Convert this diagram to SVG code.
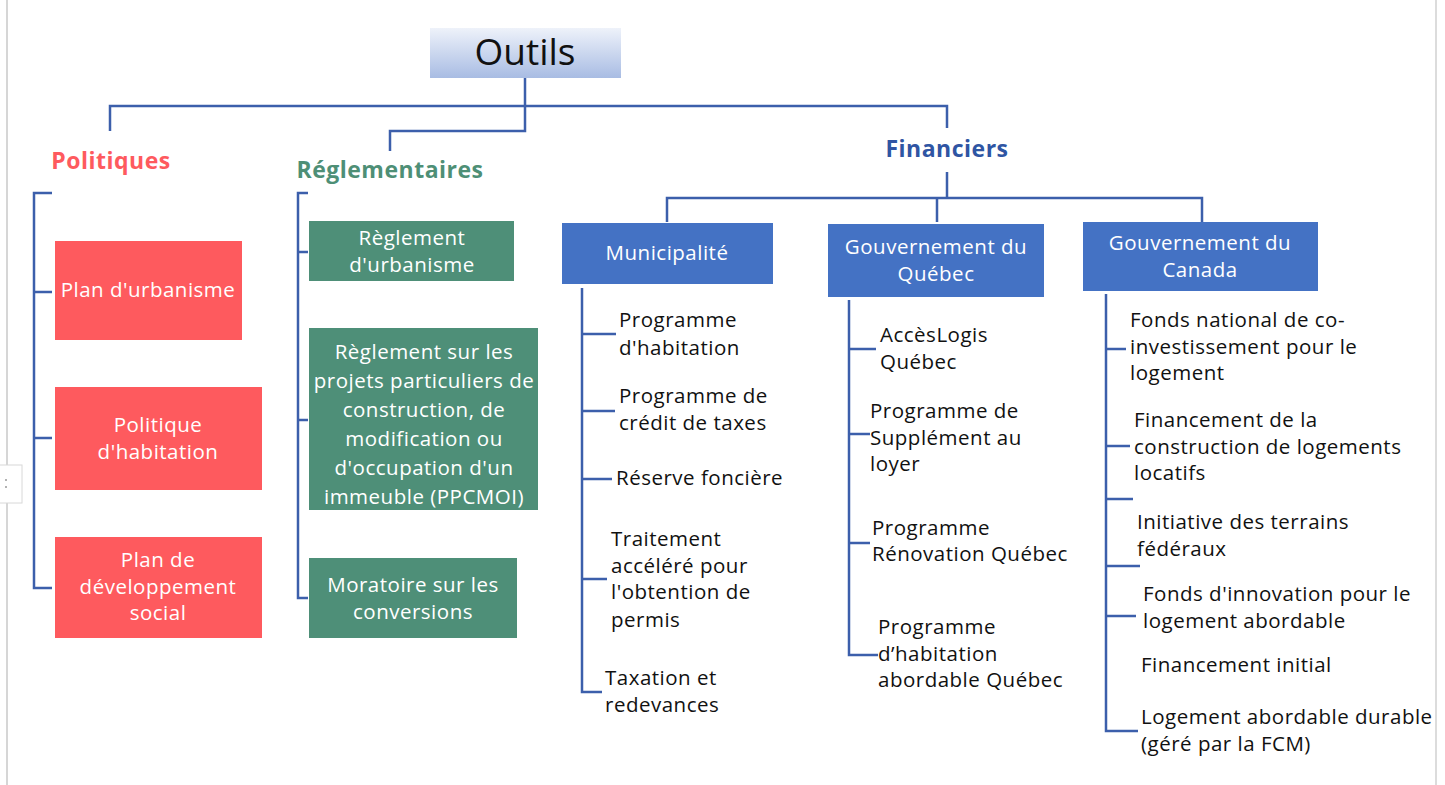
<svg xmlns="http://www.w3.org/2000/svg" width="1445" height="785" viewBox="0 0 1445 785">
<defs>
<linearGradient id="gOut" x1="0" y1="0" x2="0" y2="1">
<stop offset="0" stop-color="#eef2fa"/>
<stop offset="1" stop-color="#a8bce3"/>
</linearGradient>
<style>
.ln{fill:none;stroke:#3c5fab;stroke-width:2.5}
.t{font-family:"Open Sans","Noto Sans",sans-serif;font-size:20.5px;letter-spacing:0.5px;fill:#111}
.w{font-family:"Open Sans","Noto Sans",sans-serif;font-size:20.5px;letter-spacing:0.5px;fill:#fff;text-anchor:middle}
.h{font-family:"Open Sans","Noto Sans",sans-serif;font-size:23px;letter-spacing:0.5px;font-weight:bold;text-anchor:middle}
.red{fill:#fe5a5e}
.grn{fill:#4e8f78}
.blu{fill:#4472c4}
</style>
</defs>
<rect width="1445" height="785" fill="#fff"/>
<line x1="7" y1="0" x2="7" y2="785" stroke="#c8c8c8" stroke-width="1.5"/>
<line x1="1436" y1="0" x2="1436" y2="785" stroke="#d0d0d0" stroke-width="1.5"/>
<rect x="-1" y="465" width="23" height="38" fill="#fff" stroke="#d8d8d8"/>
<circle cx="6" cy="480" r="1" fill="#999"/><circle cx="6" cy="487" r="1" fill="#999"/>

<g id="connectors">
<path class="ln" d="M525 78V131H390V151"/>
<path class="ln" d="M110 131V106H947V128"/>
<path class="ln" d="M947 172V198M667 222V198H1202V222M937 198V222"/>
<path class="ln" d="M52 193H34V588H52M34 292H52M34 438H52"/>
<path class="ln" d="M308 193H298V598H308M298 252H308M298 420H308"/>
<path class="ln" d="M582 288V692H602M582 334H616M582 411H615M582 479H612M582 579H607"/>
<path class="ln" d="M849 300V655H878M849 349H876M849 434H870M849 543H870"/>
<path class="ln" d="M1106 294V731H1138M1106 349H1126M1106 446H1130M1106 499H1133M1106 566H1140M1106 616H1136"/>
</g>

<g id="outils">
<rect x="430" y="28" width="191" height="50" fill="url(#gOut)"/>
<text x="525" y="65" style="font-family:'Open Sans','Noto Sans',sans-serif;font-size:37px;fill:#111" text-anchor="middle">Outils</text>
</g>

<g id="politiques"><text class="h" x="111" y="169" fill="#fe5a5e">Politiques</text></g>
<g id="reglementaires"><text class="h" x="390" y="178" fill="#4e8f76">Réglementaires</text></g>
<g id="financiers"><text class="h" x="947" y="157" fill="#2f55a3">Financiers</text></g>

<g id="plan-urbanisme"><rect class="red" x="55" y="241" width="187" height="99"/><text class="w" x="148" y="297">Plan d'urbanisme</text></g>
<g id="politique-habitation"><rect class="red" x="55" y="387" width="207" height="103"/><text class="w" x="158" y="432">Politique</text><text class="w" x="158" y="459">d'habitation</text></g>
<g id="plan-developpement"><rect class="red" x="55" y="537" width="207" height="101"/><text class="w" x="158" y="567">Plan de</text><text class="w" x="158" y="594">développement</text><text class="w" x="158" y="620">social</text></g>

<g id="reglement-urbanisme"><rect class="grn" x="309" y="221" width="205" height="60"/><text class="w" x="412" y="245">Règlement</text><text class="w" x="412" y="272">d'urbanisme</text></g>
<g id="ppcmoi"><rect class="grn" x="309" y="328" width="229" height="182"/><text class="w" x="424" y="359">Règlement sur les</text><text class="w" x="424" y="388">projets particuliers de</text><text class="w" x="424" y="417">construction, de</text><text class="w" x="424" y="446">modification ou</text><text class="w" x="424" y="475">d'occupation d'un</text><text class="w" x="424" y="504">immeuble (PPCMOI)</text></g>
<g id="moratoire"><rect class="grn" x="309" y="558" width="208" height="80"/><text class="w" x="413" y="592">Moratoire sur les</text><text class="w" x="413" y="619">conversions</text></g>

<g id="municipalite"><rect class="blu" x="562" y="223" width="211" height="61"/><text class="w" x="667" y="260">Municipalité</text></g>
<g id="quebec"><rect class="blu" x="828" y="224" width="216" height="73"/><text class="w" x="936" y="254">Gouvernement du</text><text class="w" x="936" y="281">Québec</text></g>
<g id="canada"><rect class="blu" x="1083" y="222" width="235" height="69"/><text class="w" x="1200" y="250">Gouvernement du</text><text class="w" x="1200" y="277">Canada</text></g>

<g id="mun-items">
<text class="t" x="619" y="327">Programme</text><text class="t" x="619" y="355">d'habitation</text>
<text class="t" x="619" y="403">Programme de</text><text class="t" x="619" y="430">crédit de taxes</text>
<text class="t" x="616" y="485">Réserve foncière</text>
<text class="t" x="611" y="546">Traitement</text><text class="t" x="611" y="573">accéléré pour</text><text class="t" x="611" y="599">l'obtention de</text><text class="t" x="611" y="627">permis</text>
<text class="t" x="605" y="685">Taxation et</text><text class="t" x="605" y="712">redevances</text>
</g>

<g id="qc-items">
<text class="t" x="880" y="342">AccèsLogis</text><text class="t" x="880" y="369">Québec</text>
<text class="t" x="870" y="418">Programme de</text><text class="t" x="870" y="445">Supplément au</text><text class="t" x="870" y="471">loyer</text>
<text class="t" x="872" y="535">Programme</text><text class="t" x="872" y="561">Rénovation Québec</text>
<text class="t" x="878" y="634">Programme</text><text class="t" x="878" y="661">d’habitation</text><text class="t" x="878" y="687">abordable Québec</text>
</g>

<g id="ca-items">
<text class="t" x="1130" y="327">Fonds national de co-</text><text class="t" x="1130" y="354">investissement pour le</text><text class="t" x="1130" y="380">logement</text>
<text class="t" x="1134" y="427">Financement de la</text><text class="t" x="1134" y="454">construction de logements</text><text class="t" x="1134" y="480">locatifs</text>
<text class="t" x="1137" y="529">Initiative des terrains</text><text class="t" x="1137" y="556">fédéraux</text>
<text class="t" x="1143" y="601">Fonds d'innovation pour le</text><text class="t" x="1143" y="628">logement abordable</text>
<text class="t" x="1141" y="672">Financement initial</text>
<text class="t" x="1141" y="724">Logement abordable durable</text><text class="t" x="1141" y="751">(géré par la FCM)</text>
</g>
</svg>
